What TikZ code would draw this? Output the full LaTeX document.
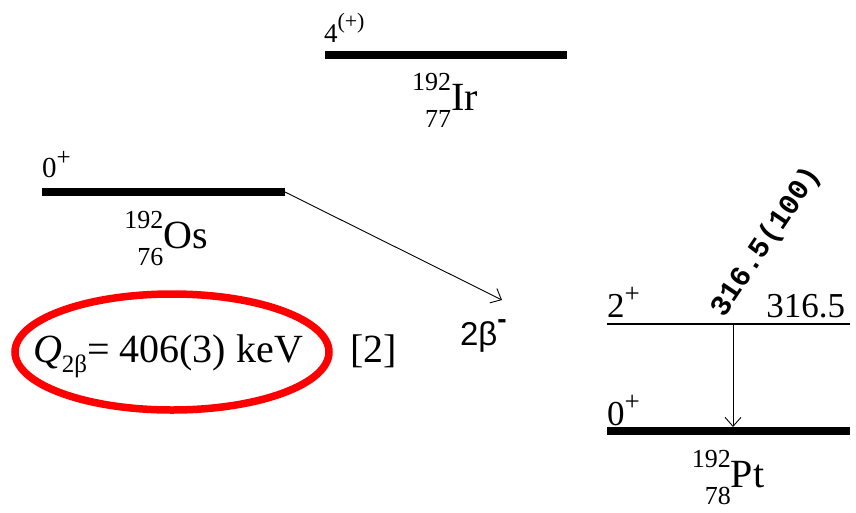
\documentclass[tikz,border=0pt]{standalone}
\usepackage{fontspec}
\setmainfont{Liberation Serif}
\newfontfamily\sansf{Liberation Sans}
\newfontfamily\monof{Liberation Mono}
\usetikzlibrary{arrows.meta}
\newcommand{\nuc}[3]{{\fontsize{26}{26}\selectfont\ooalign{\hfil\raisebox{20pt}{#1}\cr\hfil\raisebox{-17pt}{#2}\cr}}{\fontsize{40}{40}\selectfont #3}}
\newcommand{\fsz}[1]{\fontsize{#1}{#1}\selectfont}
\newcommand{\sups}[3]{\raisebox{#2pt}{\fsz{#1}#3}}
\tikzset{
  gslevel/.style={line width=7.5pt},
  exlevel/.style={line width=1.4pt},
  trans/.style={line width=0.9pt, -{Straight Barb[length=9pt,width=16pt,line width=0.9pt]}},
  lbl/.style={inner sep=0pt, outer sep=0pt},
  ring/.style={draw=red, line width=7.5pt}
}
\begin{document}
\begin{tikzpicture}[x=1pt,y=-1pt]
\useasboundingbox (0,0) rectangle (856,512);
% Ir
\coordinate (irL) at (325,55);
\coordinate (irR) at (567,55);
\draw[gslevel] (irL) -- (irR);
\node[lbl, anchor=base west, font=\fsz{27}] (irspin) at (324,42) {4\sups{22}{14}{(+)}};
\node[lbl, anchor=base] (irnuc) at (445,110) {\nuc{192}{77}{Ir}};
% Os
\coordinate (osL) at (42,192);
\coordinate (osR) at (285,192);
\draw[gslevel] (osL) -- (osR);
\node[lbl, anchor=base west, font=\fsz{29}] (osspin) at (42,177) {0\sups{25}{12}{+}};
\node[lbl, anchor=base] (osnuc) at (166,248) {\nuc{192}{76}{Os}};
% double beta
\coordinate (bbend) at (502,300);
\draw[trans] (osR) -- (bbend);
\node[lbl, anchor=base west, font=\sansf\fsz{33}] (bblbl) at (460,345) {2β\sups{28}{17}{\bfseries -}};
% Q value
\draw[ring] (172,352) ellipse [x radius=157pt, y radius=58pt];
\node[lbl, anchor=base west, font=\fsz{40}] (qval) at (33,362) {\textit{Q}\raisebox{-10pt}{\fsz{25}2β}= 406(3) keV};
\node[lbl, anchor=base west, font=\fsz{40}] (ref) at (350,362) {[2]};
% Pt
\coordinate (p2L) at (607,324);
\coordinate (p2R) at (850,324);
\coordinate (p0L) at (607,431);
\coordinate (p0R) at (850,431);
\draw[exlevel] (p2L) -- (p2R);
\draw[gslevel] (p0L) -- (p0R);
\node[lbl, anchor=base west, font=\fsz{35}] (p2spin) at (607,317) {2\sups{27}{15}{+}};
\node[lbl, anchor=base east, font=\fsz{35}] (p2e) at (845,317) {316.5};
\node[lbl, anchor=base west, font=\fsz{35}] (p0spin) at (607,425) {0\sups{27}{15}{+}};
\node[lbl, anchor=base] (ptnuc) at (728,487) {\nuc{192}{78}{Pt}};
\coordinate (gtop) at (733,324);
\coordinate (gbot) at (733,427);
\draw[trans] (gtop) -- (gbot);
\node[lbl, anchor=base west, rotate=56, font=\monof\bfseries\fsz{29}] (glbl) at (724,318) {316.5(100)};
\end{tikzpicture}
\end{document}
